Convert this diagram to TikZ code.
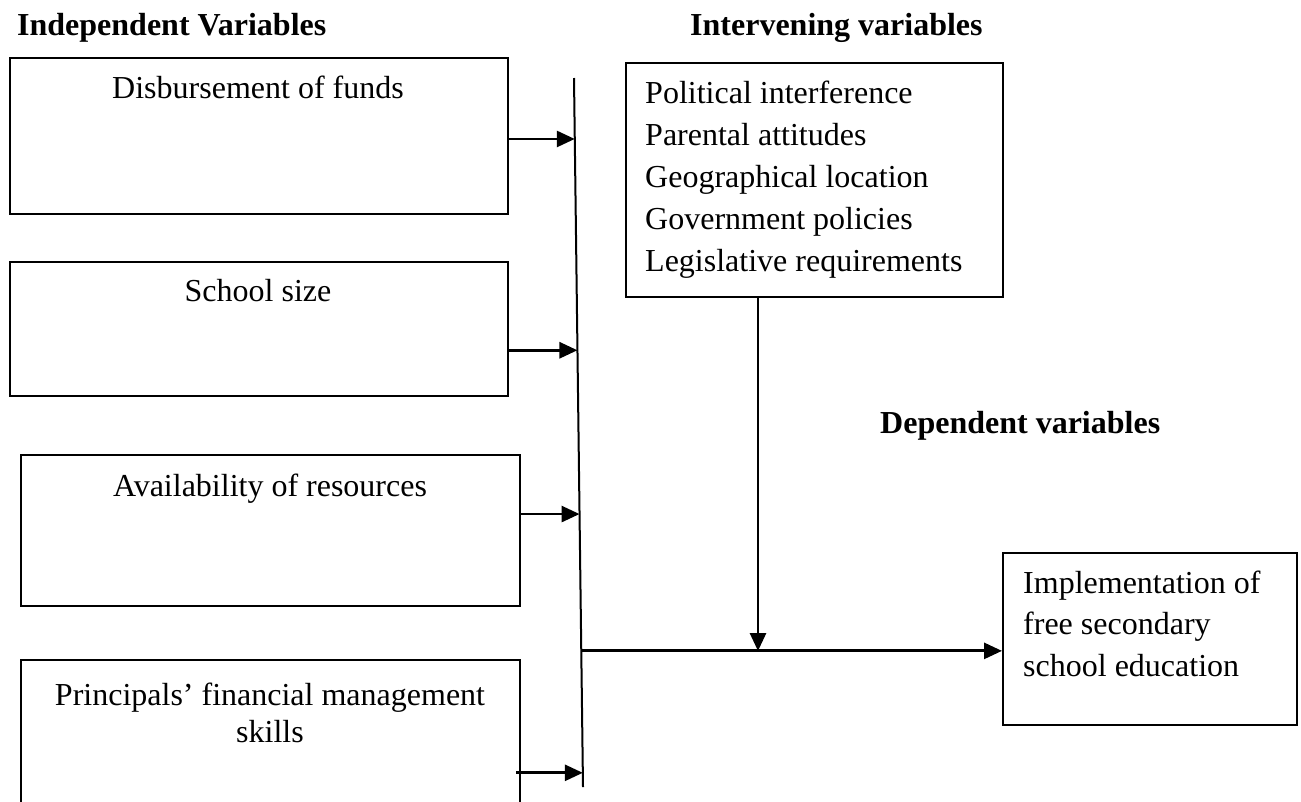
\documentclass[tikz,border=0pt]{standalone}
\usepackage{fontspec}
\setmainfont{Liberation Serif}
\usetikzlibrary{arrows.meta,calc}
\begin{document}
\begin{tikzpicture}[x=1pt,y=-1pt,
  box/.style={draw, line width=2pt, inner sep=0pt, anchor=north west},
  txt/.style={inner sep=0pt, font=\fontsize{32}{41.5}\selectfont},
  hd/.style={inner sep=0pt, font=\fontsize{32}{40}\selectfont\bfseries, anchor=base west},
  arr/.style={line width=2.8pt, -{Triangle[length=18pt,width=16pt]}},
  bar/.style={line width=2pt}]
\useasboundingbox (0,0) rectangle (1301,801);
\clip (0,0) rectangle (1301,801);

% headers
\node[hd] (h1) at (17,35) {Independent Variables};
\node[hd] (h2) at (690,35) {Intervening variables};
\node[hd] (h3) at (880,433) {Dependent variables};

% independent variable boxes
\node[box, minimum width=498pt, minimum height=156pt] (b1) at (9,57) {};
\node[box, minimum width=498pt, minimum height=134pt] (b2) at (9,261) {};
\node[box, minimum width=499pt, minimum height=151pt] (b3) at (20,454) {};
\node[box, minimum width=499pt, minimum height=200pt] (b4) at (20,659) {};

\node[txt, anchor=base] (t1) at (258,98) {Disbursement of funds};
\node[txt, anchor=base] (t2) at (258,301) {School size};
\node[txt, anchor=base] (t3) at (270,496) {Availability of resources};
\node[txt, anchor=base] (t4a) at (270,705) {Principals’ financial management};
\node[txt, anchor=base] (t4b) at (270,742) {skills};

% intervening box
\node[box, minimum width=377pt, minimum height=234pt] (iv) at (625,62) {};
\node[txt, anchor=base west] (i1) at (645,103) {Political interference};
\node[txt, anchor=base west] (i2) at (645,145) {Parental attitudes};
\node[txt, anchor=base west] (i3) at (645,187) {Geographical location};
\node[txt, anchor=base west] (i4) at (645,229) {Government policies};
\node[txt, anchor=base west] (i5) at (645,271) {Legislative requirements};

% dependent box
\node[box, minimum width=294pt, minimum height=172pt] (dep) at (1002,552) {};
\node[txt, anchor=base west] (d1) at (1023,593) {Implementation of};
\node[txt, anchor=base west] (d2) at (1023,634) {free secondary};
\node[txt, anchor=base west] (d3) at (1023,676) {school education};

% vertical collector line
\coordinate (vtop) at (574,78);
\coordinate (vbot) at (583,787);
\draw[bar] (vtop) -- (vbot);

\coordinate (p1) at ($(vtop)!0.086!(vbot)$);
\coordinate (p2) at ($(vtop)!0.384!(vbot)$);
\coordinate (p3) at ($(vtop)!0.615!(vbot)$);
\coordinate (p4) at ($(vtop)!0.980!(vbot)$);
\coordinate (h0) at ($(vtop)!0.808!(vbot)$);

\draw[arr] (b1.east |- p1) -- (p1);
\draw[arr] (b2.east |- p2) -- (p2);
\draw[arr] (b3.east |- p3) -- (p3);
\draw[arr] ([xshift=-5pt]b4.east |- p4) -- (p4);

\draw[arr] (h0) -- (dep.west |- h0);
\coordinate (m) at (758,651);
\draw[arr] (iv.south -| m) -- (m);
\end{tikzpicture}
\end{document}
